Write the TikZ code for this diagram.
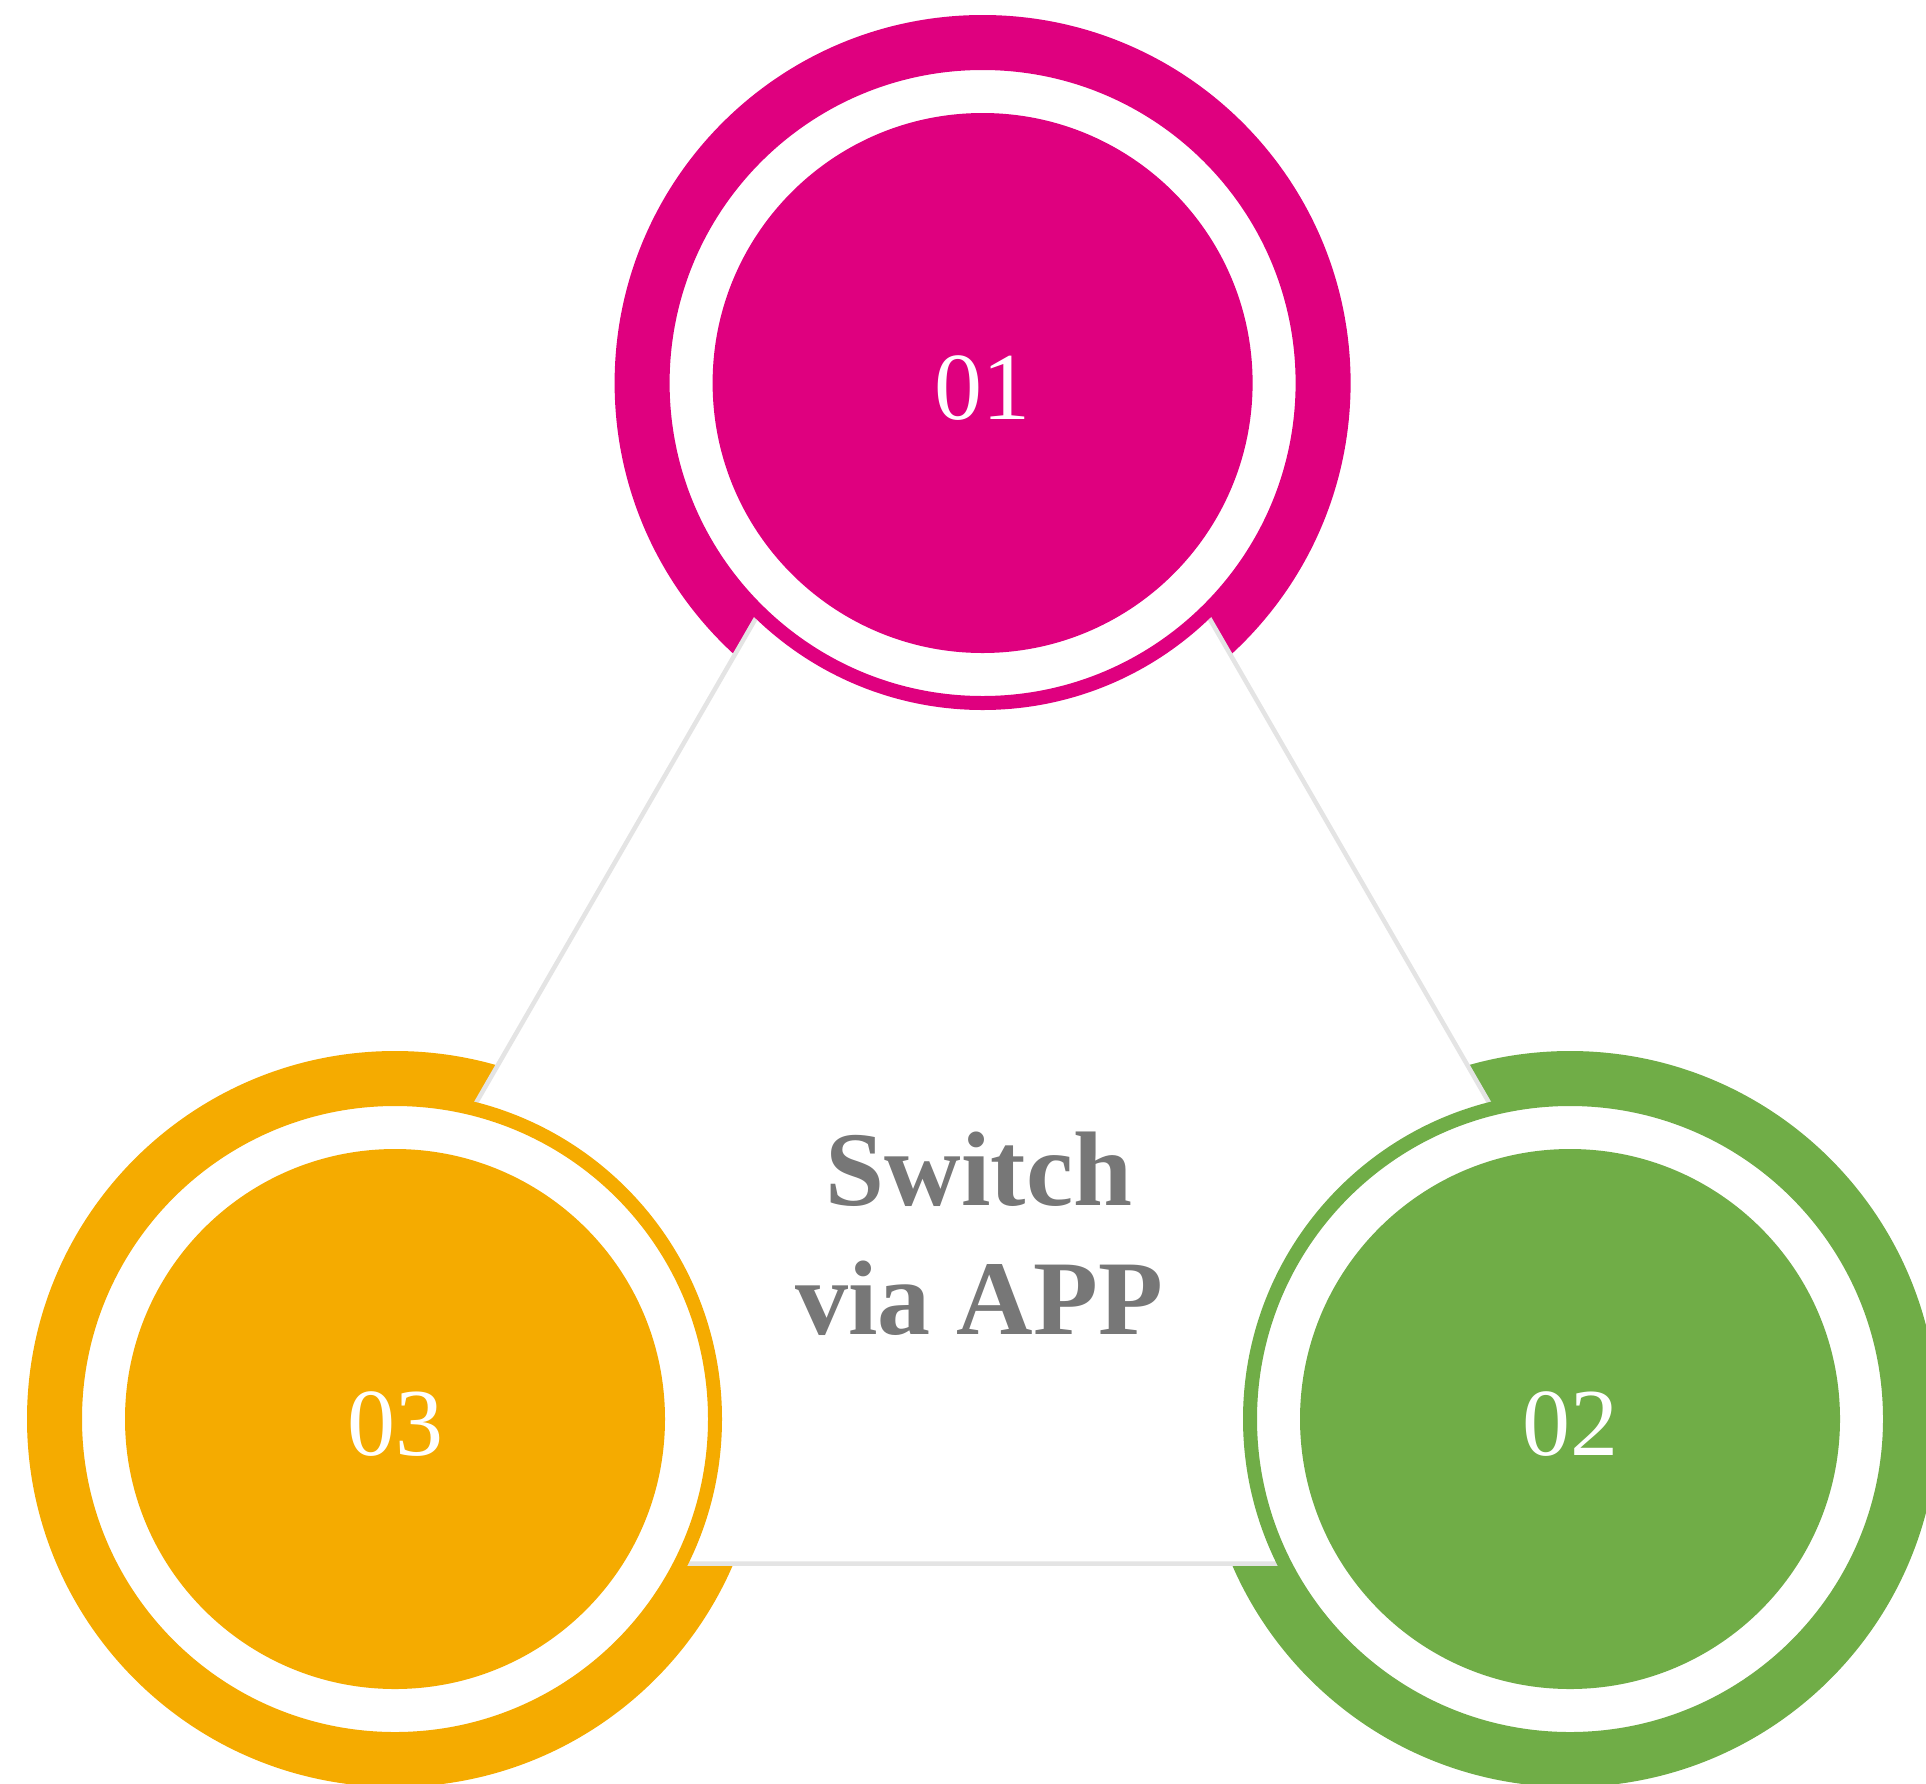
\documentclass[tikz,border=0pt]{standalone}
\usepackage{fontspec}
\setmainfont{Liberation Serif}
\definecolor{magentaC}{RGB}{223,0,127}
\definecolor{orangeC}{RGB}{245,171,0}
\definecolor{greenC}{RGB}{112,173,71}
\definecolor{textgray}{RGB}{119,119,119}
\definecolor{edgegray}{RGB}{228,228,228}
\tikzset{
  outerring/.style={fill=#1},
  whitering/.style={fill=white, draw=#1, line width=14pt},
  innerdisc/.style={fill=#1},
  numlabel/.style={text=white, inner sep=0pt, anchor=base, font=\fontsize{96}{110}\selectfont},
  centertext/.style={text=textgray, inner sep=0pt, anchor=base, font=\fontsize{106}{127}\selectfont\bfseries},
  triedge/.style={fill=white, draw=edgegray, line width=4.5pt, line join=miter}
}
\begin{document}
\begin{tikzpicture}[x=1pt,y=-1pt]
\useasboundingbox (0,0) rectangle (1926,1783);
\clip (0,0) rectangle (1926,1783);
\coordinate (ctop) at (982.6,383);
\coordinate (cleft) at (395,1419);
\coordinate (cright) at (1570,1419);
% outer rings
\fill[outerring=magentaC] (ctop) circle[radius=368pt];
\fill[outerring=orangeC] (cleft) circle[radius=368pt];
\fill[outerring=greenC] (cright) circle[radius=368pt];
% triangle
\coordinate (tA) at (982.6,225.5);
\coordinate (tB) at (210,1563.6);
\coordinate (tC) at (1755.2,1563.6);
\path[triedge] (tA) -- (tB) -- (tC) -- cycle;
% white rings with coloured edge
\path[whitering=magentaC] (ctop) circle[radius=320pt];
\path[whitering=orangeC] (cleft) circle[radius=320pt];
\path[whitering=greenC] (cright) circle[radius=320pt];
% inner discs
\fill[innerdisc=magentaC] (ctop) circle[radius=270pt];
\fill[innerdisc=orangeC] (cleft) circle[radius=270pt];
\fill[innerdisc=greenC] (cright) circle[radius=270pt];
% numbers
\node[numlabel] (n01) at (982.6,419) {01};
\node[numlabel] (n03) at (395,1455) {03};
\node[numlabel] (n02) at (1570,1455) {02};
% centre text
\node[centertext] (t1) at (979,1205) {Switch};
\node[centertext] (t2) at (979,1334) {via APP};
\end{tikzpicture}
\end{document}
